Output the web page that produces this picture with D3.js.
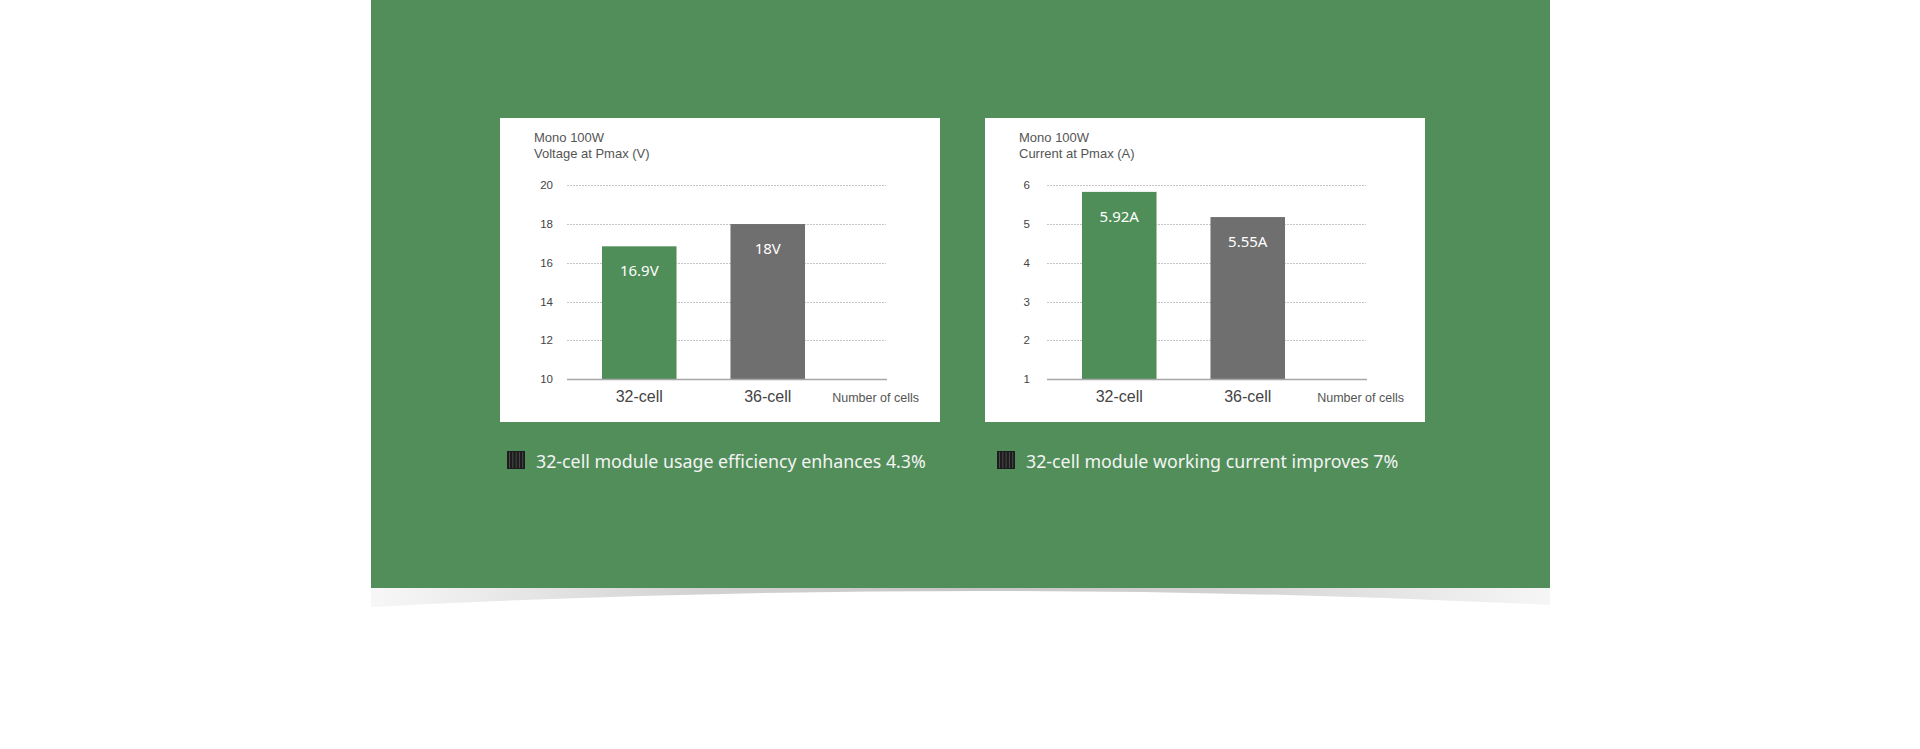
<!DOCTYPE html>
<html>
<head>
<meta charset="utf-8">
<script src="https://cdn.jsdelivr.net/npm/d3@7"></script>
<style>
  body { margin: 0; background: #fff; }
  svg { display: block; }
</style>
</head>
<body>
<div id="viz"></div>
<script>
/*** data ***/
const categories = ["32-cell", "36-cell"];

const voltageValues = [16.85, 18];
const voltageLabels = ["16.9V", "18V"];
const voltageTicks = [10, 12, 14, 16, 18, 20];
const voltageTitle = ["Mono 100W", "Voltage at Pmax (V)"];

const currentValues = [5.83, 5.18];
const currentLabels = ["5.92A", "5.55A"];
const currentTicks = [1, 2, 3, 4, 5, 6];
const currentTitle = ["Mono 100W", "Current at Pmax (A)"];

const xAxisTitle = "Number of cells";
const notes = [
  "32-cell module usage efficiency enhances 4.3%",
  "32-cell module working current improves 7%"
];

/*** global variable/s ***/
const width = 1920, height = 749;
const green = "#518e5a";
const barColors = ["#4f8e59", "#6f6f6f"];

const svg = d3.select("#viz")
  .append("svg")
  .attr("width", width)
  .attr("height", height);

const defs = svg.append("defs");
const grad = defs.append("linearGradient")
  .attr("id", "shadow")
  .attr("x1", "0%").attr("x2", "100%");
[[0, "#f7f7f7"], [0.28, "#d2d2d2"], [0.5, "#c6c6c6"], [0.72, "#d2d2d2"], [1, "#f6f6f6"]]
  .forEach(s => grad.append("stop").attr("offset", s[0]).attr("stop-color", s[1]));

// curved shadow under the green block
svg.append("path")
  .attr("d", "M371,588 L1550,588 L1550,605 Q960.5,576 371,607 Z")
  .attr("fill", "url(#shadow)");

svg.append("rect")
  .attr("x", 371).attr("y", 0)
  .attr("width", 1179).attr("height", 588)
  .attr("fill", green);

/*** helper function ***/
function drawChart(cfg) {
  const g = svg.append("g");

  g.append("rect")
    .attr("x", cfg.px).attr("y", 118)
    .attr("width", 440).attr("height", 304)
    .attr("fill", "#fff");

  g.selectAll(".title")
    .data(cfg.title)
    .join("text")
    .attr("x", cfg.px + 34)
    .attr("y", (d, i) => 142 + i * 16)
    .attr("font-family", "Liberation Sans, Arial, sans-serif")
    .attr("font-size", 13)
    .attr("fill", "#555")
    .text(d => d);

  const x0 = cfg.x0, x1 = cfg.x0 + 319;
  const y = d3.scaleLinear()
    .domain(d3.extent(cfg.ticks))
    .range([379, 185.3]);

  const x = d3.scaleBand()
    .domain(categories)
    .range([x0 + 35, x0 + 238])
    .paddingInner(0.42)
    .paddingOuter(0);

  // grid
  g.append("g")
    .selectAll("line")
    .data(cfg.ticks.slice(1))
    .join("line")
    .attr("x1", x0).attr("x2", x1)
    .attr("y1", d => Math.round(y(d)) + 0.5)
    .attr("y2", d => Math.round(y(d)) + 0.5)
    .attr("stroke", "#c4c4c4")
    .attr("stroke-dasharray", "2,1");

  const yAxis = g.append("g")
    .attr("transform", `translate(${x0 - cfg.tickGap},0)`)
    .call(d3.axisLeft(y).tickValues(cfg.ticks).tickFormat(d3.format("d")).tickSize(0).tickPadding(0));
  yAxis.select(".domain").remove();
  yAxis.selectAll("text")
    .attr("font-family", "Liberation Sans, Arial, sans-serif")
    .attr("font-size", 11.5)
    .attr("fill", "#444");

  g.append("g")
    .selectAll("rect")
    .data(cfg.values)
    .join("rect")
    .attr("x", (d, i) => x(categories[i]))
    .attr("width", x.bandwidth())
    .attr("y", d => y(d))
    .attr("height", d => y(cfg.ticks[0]) - y(d))
    .attr("fill", (d, i) => barColors[i]);

  g.append("g")
    .selectAll("text")
    .data(cfg.values)
    .join("text")
    .attr("x", (d, i) => x(categories[i]) + x.bandwidth() / 2)
    .attr("y", d => y(d) + 30)
    .attr("text-anchor", "middle")
    .attr("font-family", "Noto Sans, sans-serif")
    .attr("font-size", 15)
    .attr("fill", "#fff")
    .text((d, i) => cfg.labels[i]);

  // x axis line
  g.append("line")
    .attr("x1", x0).attr("x2", x1 + 1)
    .attr("y1", 379.5).attr("y2", 379.5)
    .attr("stroke", "#a6a6a6")
    .attr("stroke-width", 1.5);

  const xAxis = g.append("g")
    .attr("transform", "translate(0,391)")
    .call(d3.axisBottom(x).tickSize(0).tickPadding(0));
  xAxis.select(".domain").remove();
  xAxis.selectAll("text")
    .attr("font-family", "Liberation Sans, Arial, sans-serif")
    .attr("font-size", 16)
    .attr("fill", "#444");

  g.append("text")
    .attr("x", cfg.px + 419)
    .attr("y", 402)
    .attr("text-anchor", "end")
    .attr("font-family", "Liberation Sans, Arial, sans-serif")
    .attr("font-size", 12.5)
    .attr("fill", "#555")
    .text(xAxisTitle);

  // note with small solar cell icon
  const icon = g.append("g")
    .attr("transform", `translate(${cfg.iconX},451)`);
  icon.append("rect")
    .attr("width", 18).attr("height", 18)
    .attr("fill", "#1c1c1c");
  icon.selectAll("line")
    .data(d3.range(5))
    .join("line")
    .attr("x1", d => 2.5 + d * 3.3).attr("x2", d => 2.5 + d * 3.3)
    .attr("y1", 1).attr("y2", 17)
    .attr("stroke", "#4a4a4a")
    .attr("stroke-width", 1);

  g.append("text")
    .attr("x", cfg.iconX + 29)
    .attr("y", 468)
    .attr("font-family", "Noto Sans, sans-serif")
    .attr("font-size", 17.8)
    .attr("fill", "#f4f4f4")
    .text(cfg.note);
}

drawChart({ px: 500, x0: 567, tickGap: 14, iconX: 507, title: voltageTitle,
  ticks: voltageTicks, values: voltageValues, labels: voltageLabels, note: notes[0] });
drawChart({ px: 985, x0: 1047, tickGap: 17, iconX: 997, title: currentTitle,
  ticks: currentTicks, values: currentValues, labels: currentLabels, note: notes[1] });
</script>
</body>
</html>
